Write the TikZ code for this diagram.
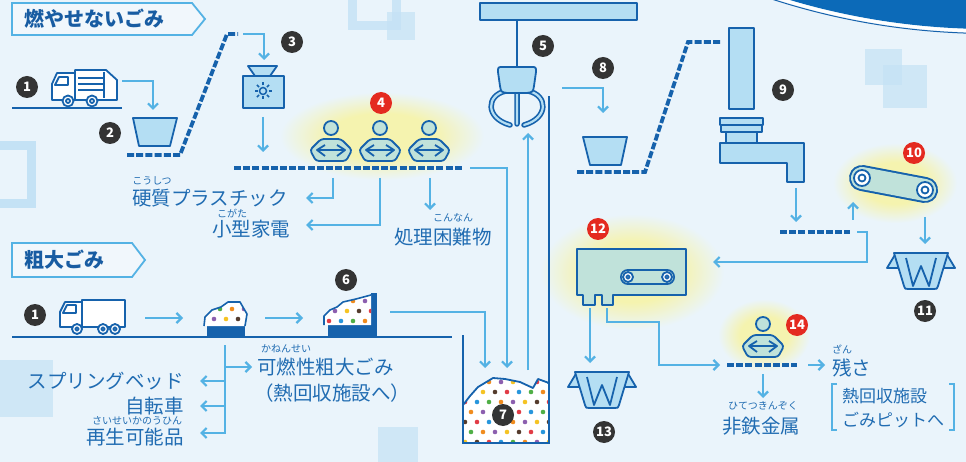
\documentclass[tikz,border=0pt]{standalone}
\usepackage{fontspec}
\setmainfont{Noto Sans CJK JP}
\usetikzlibrary{arrows.meta}

\definecolor{bgc}{RGB}{234,244,251}
\definecolor{dkblue}{RGB}{22,98,172}
\definecolor{capc}{RGB}{12,106,184}
\definecolor{flowc}{RGB}{84,178,228}
\definecolor{fillc}{RGB}{180,222,243}
\definecolor{txtc}{RGB}{32,108,178}
\definecolor{headc}{RGB}{24,92,162}
\definecolor{sqc}{RGB}{196,226,245}
\definecolor{glowc}{RGB}{245,243,175}
\definecolor{wfill}{RGB}{192,226,218}
\definecolor{numc}{RGB}{52,52,52}
\definecolor{numred}{RGB}{228,42,32}
% confetti colours
\definecolor{dot0}{RGB}{40,150,220}
\definecolor{dot1}{RGB}{80,175,70}
\definecolor{dot2}{RGB}{240,140,30}
\definecolor{dot3}{RGB}{140,95,175}
\definecolor{dot4}{RGB}{245,195,35}
\definecolor{dot5}{RGB}{85,60,45}
\definecolor{dot6}{RGB}{225,60,70}

\pgfdeclareradialshading{glow}{\pgfpoint{0bp}{0bp}}{color(0bp)=(glowc); color(13bp)=(glowc); color(25bp)=(bgc); color(50bp)=(bgc)}

\newcommand\jplabel{\fontsize{19.5}{21}\selectfont}
\newcommand\jpruby{\fontsize{10}{11}\selectfont}
\newcommand\jpnote{\fontsize{17}{18}\selectfont}
\newcommand\jphead{\bfseries\fontsize{20}{21}\selectfont}

% coloured dots: x0, y0, rows, cols
\newcommand\confetti[4]{%
  \foreach \r in {0,...,#3} \foreach \c in {0,...,#4} {
    \pgfmathtruncatemacro\k{mod(\c+3*\r,7)}
    \fill[dot\k] ({#1+\c*12+mod(\r,2)*6},{#2+\r*10}) circle (2.3);
  }}

\begin{document}
\begin{tikzpicture}[x=1pt,y=-1pt,
    flow/.style={flowc, line width=2.2pt, -{Straight Barb[length=5pt,width=10pt]}},
    belt/.style={dkblue, line width=3.8pt, dash pattern=on 7pt off 2.2pt},
    unit/.style={draw=dkblue, line width=1.8pt, fill=fillc, line join=round},
    truck/.style={draw=dkblue, line width=1.8pt, fill=white, line join=round},
    ground/.style={dkblue, line width=2.6pt},
    badge/.style={circle, fill=numc, text=white, inner sep=0pt, minimum size=22pt,
      font=\bfseries\fontsize{13}{13}\selectfont},
    redbadge/.style={badge, fill=numred},
    lbl/.style={text=txtc, inner sep=0pt, font=\jplabel},
    ruby/.style={text=txtc, inner sep=0pt, font=\jpruby},
    note/.style={text=txtc, inner sep=0pt, font=\jpnote},
    tag/.style={draw=flowc, line width=1.8pt, fill=white, fill opacity=.35},
    sq/.style={fill=sqc, opacity=.7},
    worker/.pic={
      \draw[unit, fill=wfill, rounded corners=3pt] (-10,11) -- (-21,22) -- (-15,33)
        -- (15,33) -- (21,22) -- (10,11) -- cycle;
      \draw[dkblue, line width=1.8pt, line join=round]
        (-6,17) -- (-14,22) -- (-6,28) (6,17) -- (14,22) -- (6,28) (-14,22) -- (14,22);
      \draw[unit, fill=wfill] (0,0) circle (7);
    },
    hopper/.pic={
      \draw[unit] (-25,0) -- (-34,15) -- (-18,15) -- cycle;
      \draw[unit] (25,0) -- (34,15) -- (18,15) -- cycle;
      \draw[unit] (-27,0) -- (27,0) -- (17,33) .. controls (16,36) .. (13,36)
        -- (-13,36) .. controls (-16,36) .. (-17,33) -- cycle;
      \draw[dkblue, line width=1.8pt, line join=round]
        (-15,5) -- (-8,33) -- (0,13) -- (8,33) -- (15,5);
    }]
\useasboundingbox (0,0) rectangle (966,462);
\clip (0,0) rectangle (966,462);
\fill[bgc] (0,0) rectangle (966,462);

% pale squares in the back
\draw[sqc, line width=9pt] (-20,146) rectangle (31,204);
\draw[sqc, line width=9pt, opacity=.8] (352,-20) rectangle (396,26);
\fill[sq] (387,12) rectangle (415,40);
\fill[sq] (865,49) rectangle (902,85);
\fill[sq] (883,65) rectangle (927,108);
\fill[sq] (0,360) rectangle (53,417);
\fill[sq] (378,427) rectangle (418,462);

% round cap, top right
\fill[capc] (990,-671) circle (700);
\draw[white, line width=3pt] (990,-671) circle (702);
\draw[dkblue, line width=1pt] (990,-671) circle (704.5);

% glows behind the hand sorting and the separators
\shade[shading=glow] (382,136) ellipse (102 and 44);
\shade[shading=glow] (895,183) ellipse (62 and 40);
\shade[shading=glow] (632,272) ellipse (92 and 58);
\shade[shading=glow] (764,335) ellipse (46 and 36);

%%%%%%%%%% upper line
\draw[tag] (12,3) -- (192,3) -- (205,19) -- (192,35) -- (12,35) -- cycle;
\node[anchor=west, text=headc, inner sep=0pt, font=\jphead] (head1) at (24,19) {燃やせないごみ};

% packer truck
\draw[ground] (12,108) -- (122,108);
\draw[truck] (52,100) -- (52,84) -- (57,73) -- (75,73) -- (75,100) -- cycle;
\draw[truck] (55,85) -- (59,77) -- (68,77) -- (68,85) -- cycle;
\draw[truck] (75,70) -- (106,70) -- (117,80) -- (117,100) -- (75,100) -- cycle;
\foreach \yy in {78,84,90} \draw[dkblue, line width=1.6pt] (78,\yy) -- (103,\yy);
\draw[dkblue, line width=1.6pt] (104,72) -- (104,98);
\foreach \xx in {68,92} {
  \draw[truck] (\xx,101) circle (5.5);
  \draw[truck] (\xx,101) circle (2);
}
\node[badge] (n1) at (27,87) {1};

% receiving bin and belt up to the crusher
\draw[unit] (133,118) -- (177,118) -- (170,146) -- (139,146) -- cycle;
\draw[belt] (127,155) -- (180,155) -- (227,34) -- (238,34);
\node[badge] (n2) at (110,133) {2};

% crusher
\draw[unit] (248,66) -- (277,66) -- (270,76) -- (255,76) -- cycle;
\draw[unit] (243,76) rectangle (284,108);
\draw[dkblue, line width=1.5pt] (263,91) circle (3.5);
\foreach \a in {0,45,...,315} \draw[dkblue, line width=1.5pt] (263,91) ++(\a:5.5) -- ++(\a:3);
\node[badge] (n3) at (292,42) {3};

% hand sorting
\draw[belt] (234,168) -- (462,168);
\foreach \xx in {331,380,429} \pic at (\xx,128) {worker};
\node[redbadge] (n4) at (381,103) {4};

% crane and claw
\draw[unit] (480,3) rectangle (637,20);
\draw[dkblue, line width=1.8pt] (517,20) -- (517,67);
\foreach \lw/\cc in {5.5pt/dkblue, 2.2pt/fillc}
  \draw[\cc, line width=\lw, line cap=round]
    (506,91) .. controls (486,95) and (485,118) .. (510,125)
    (528,91) .. controls (548,95) and (549,118) .. (524,125)
    (517,93) -- (517,124);
\draw[unit] (498,72) .. controls (498,67) .. (503,67) -- (531,67) .. controls (536,67) .. (536,72)
  -- (534,86) .. controls (533,92) .. (527,93) -- (507,93) .. controls (501,92) .. (500,86) -- cycle;
\node[badge] (n5) at (543,46) {5};

% pit
\begin{scope}
  \clip (463,405) -- (470,396) -- (478,387) -- (493,378) -- (505,379) -- (520,382)
    -- (533,388) -- (538,379) -- (549,383) -- (549,443) -- (463,443) -- cycle;
  \fill[white] (460,370) rectangle (552,446);
  \confetti{465}{382}{6}{7}
\end{scope}
\draw[dkblue, line width=1.8pt, line join=round] (463,405) -- (470,396) -- (478,387) -- (493,378)
  -- (505,379) -- (520,382) -- (533,388) -- (538,379) -- (549,383);
\draw[dkblue, line width=2.2pt] (463,335) -- (463,443) -- (549,443) -- (549,96);
\node[badge] (n7) at (503,415) {7};

% second bin and belt
\draw[unit] (583,137) -- (627,137) -- (621,165) -- (590,165) -- cycle;
\draw[belt] (577,172) -- (645,172) -- (688,42) -- (722,42);
\node[badge] (n8) at (603,68) {8};

% rotary shear
\draw[unit] (729,28) rectangle (754,109);
\draw[unit] (720,118) rectangle (763,125);
\draw[unit] (721,125) rectangle (762,132);
\draw[unit] (726,132) rectangle (757,143);
\draw[unit] (720,143) -- (804,143) -- (804,182) -- (787,182) -- (787,163) -- (720,163) -- cycle;
\node[badge] (n9) at (783,90) {9};

% short belt and magnet
\draw[belt] (780,232) -- (850,232);
\draw[dkblue, line width=26pt, line cap=round] (862,178) -- (925,190);
\draw[wfill, line width=22pt, line cap=round] (862,178) -- (925,190);
\foreach \xx/\yy in {862/178, 925/190} {
  \draw[truck] (\xx,\yy) circle (8);
  \draw[truck] (\xx,\yy) circle (3.5);
}
\node[redbadge] (n10) at (914,153) {10};
\pic at (921,253) {hopper};
\node[badge] (n11) at (925,311) {11};

% aluminium separator
\draw[unit, fill=wfill] (577,249) -- (686,249) -- (686,295) -- (613,295) -- (613,305) -- (602,305)
  -- (602,295) -- (595,295) -- (595,305) -- (583,305) -- (583,295) -- (577,295) -- cycle;
\draw[dkblue, line width=16pt, line cap=round] (628,277) -- (667,277);
\draw[wfill, line width=12.4pt, line cap=round] (628,277) -- (667,277);
\foreach \xx in {628,667} {
  \draw[truck] (\xx,277) circle (5);
  \draw[truck] (\xx,277) circle (1.8);
}
\node[redbadge] (n12) at (598,229) {12};
\pic at (602,372) {hopper};
\node[badge] (n13) at (604,432) {13};

% last hand picking
\draw[belt] (727,365) -- (797,365);
\pic at (763,324) {worker};
\node[redbadge] (n14) at (797,325) {14};

%%%%%%%%%% lower line
\draw[tag] (12,243) -- (132,243) -- (145,260) -- (132,277) -- (12,277) -- cycle;
\node[anchor=west, text=headc, inner sep=0pt, font=\jphead] (head2) at (24,260) {粗大ごみ};

\draw[ground] (12,337) -- (452,337);
% box truck
\draw[truck] (60,327) -- (60,312) -- (65,302) -- (82,302) -- (82,327) -- cycle;
\draw[truck] (63,313) -- (67,305) -- (76,305) -- (76,313) -- cycle;
\draw[truck] (82,300) rectangle (125,327);
\foreach \xx in {77,103,115} {
  \draw[truck] (\xx,329) circle (5);
  \draw[truck] (\xx,329) circle (1.8);
}
\node[badge] (m1) at (35,315) {1};

% first heap
\fill[dkblue] (207,326) rectangle (245,337);
\begin{scope}
  \clip (204,326) -- (205,317) -- (212,310) -- (221,307) -- (228,302) -- (240,302) -- (247,314) -- (245,326) -- cycle;
  \fill[white] (200,298) rectangle (250,330);
  \confetti{208}{309}{2}{3}
\end{scope}
\draw[dkblue, line width=1.6pt, line join=round] (204,326) -- (205,317) -- (212,310) -- (221,307)
  -- (228,302) -- (240,302) -- (247,314) -- (245,326);

% second heap at the press
\fill[dkblue] (328,325) rectangle (377,337);
\fill[dkblue] (371,293) rectangle (377,337);
\begin{scope}
  \clip (324,325) -- (324,316) -- (330,310) -- (337,307) -- (343,302) -- (356,299) -- (371,295) -- (371,325) -- cycle;
  \fill[white] (320,290) rectangle (372,327);
  \confetti{329}{301}{2}{3}
\end{scope}
\draw[dkblue, line width=1.6pt, line join=round] (324,325) -- (324,316) -- (330,310) -- (337,307)
  -- (343,302) -- (356,299) -- (371,295);
\node[badge] (n6) at (346,280) {6};

%%%%%%%%%% labels
\node[lbl, anchor=west] (hardpl) at (132,198) {硬質プラスチック};
\node[ruby] at (152,181) {こうしつ};
\node[lbl, anchor=west] (smallel) at (212,229) {小型家電};
\node[ruby] at (232,213) {こがた};
\node[lbl, anchor=west] (hard) at (394,237) {処理困難物};
\node[ruby] at (453,218) {こんなん};

\node[lbl, anchor=west] (burn) at (257,367) {可燃性粗大ごみ};
\node[ruby] at (286,349) {かねんせい};
\node[lbl, anchor=west] (burn2) at (254,393) {（熱回収施設へ）};
\node[lbl, anchor=east] (bed) at (184,381) {スプリングベッド};
\node[lbl, anchor=east] (bike) at (184,406) {自転車};
\node[lbl, anchor=east] (reuse) at (184,437) {再生可能品};
\node[ruby] at (137,421) {さいせいかのうひん};

\node[lbl, anchor=west] (resid) at (832,368) {残さ};
\node[ruby] at (842,349) {ざん};
\node[lbl, anchor=west] (nonfe) at (722,426) {非鉄金属};
\node[ruby] at (763,406) {ひてつきんぞく};
\node[note, anchor=west] (pit1) at (842,396) {熱回収施設};
\node[note, anchor=west] (pit2) at (842,420) {ごみピットへ};
\draw[flowc, line width=1.4pt] (837,384) -| (832,430) -- (837,430);
\draw[flowc, line width=1.4pt] (949,384) -| (954,430) -- (949,430);

%%%%%%%%%% flow arrows
\coordinate (truckout) at (122,81);   \coordinate (binin) at (153,110);
\coordinate (beltend) at (243,34);    \coordinate (crushin) at (264,60);
\coordinate (crushout) at (263,117);  \coordinate (sortin) at (263,152);
\coordinate (s1) at (333,178);        \coordinate (s1end) at (306,198);
\coordinate (s2) at (380,178);        \coordinate (s2end) at (306,225);
\coordinate (s3) at (430,178);        \coordinate (s3end) at (430,210);
\coordinate (sortout) at (470,168);   \coordinate (pitA) at (507,368);
\coordinate (pressout) at (390,312);  \coordinate (pitB) at (485,368);
\coordinate (pitC) at (528,370);      \coordinate (clawin) at (528,133);
\coordinate (clawout) at (562,88);    \coordinate (bin8in) at (603,113);
\coordinate (shearout) at (796,188);  \coordinate (beltin) at (796,222);
\coordinate (beltout) at (857,232);   \coordinate (sepin) at (713,262);
\coordinate (magup) at (853,220);     \coordinate (magin) at (853,202);
\coordinate (magout) at (925,217);    \coordinate (hop11) at (925,244);
\coordinate (legA) at (590,308);      \coordinate (hop13) at (590,363);
\coordinate (legB) at (607,308);      \coordinate (bendA) at (659,322);
\coordinate (pickin) at (720,365);
\coordinate (pickout) at (808,365);   \coordinate (residin) at (825,365);
\coordinate (pickdown) at (763,374);  \coordinate (nonfein) at (763,398);
\coordinate (truck2) at (145,318);    \coordinate (heap1) at (183,318);
\coordinate (heap1out) at (265,318);  \coordinate (heap2) at (303,318);
\coordinate (fork) at (225,345);

\draw[flow] (truckout) -| (binin);
\draw[flow] (beltend) -| (crushin);
\draw[flow] (crushout) -- (sortin);
\draw[flow] (s1) |- (s1end);
\draw[flow] (s2) |- (s2end);
\draw[flow] (s3) -- (s3end);
\draw[flow] (sortout) -| (pitA);
\draw[flow] (pressout) -| (pitB);
\draw[flow] (pitC) -- (clawin);
\draw[flow] (clawout) -| (bin8in);
\draw[flow] (shearout) -- (beltin);
\draw[flow] (beltout) -| ++(10,30) -- (sepin);
\draw[flow] (magup) -- (magin);
\draw[flow] (magout) -- (hop11);
\draw[flow] (legA) -- (hop13);
\draw[flow] (legB) |- (bendA) |- (pickin);
\draw[flow] (pickout) -- (residin);
\draw[flow] (pickdown) -- (nonfein);
\draw[flow] (truck2) -- (heap1);
\draw[flow] (heap1out) -- (heap2);
% fork under the heap
\draw[flow] (fork) |- (200,433);
\draw[flow] (fork |- burn.west) -- ([xshift=-5pt]burn.west);
\draw[flow] (fork |- bed.east) -- ([xshift=16pt]bed.east);
\draw[flow] (fork |- bike.east) -- ([xshift=16pt]bike.east);
\end{tikzpicture}
\end{document}
